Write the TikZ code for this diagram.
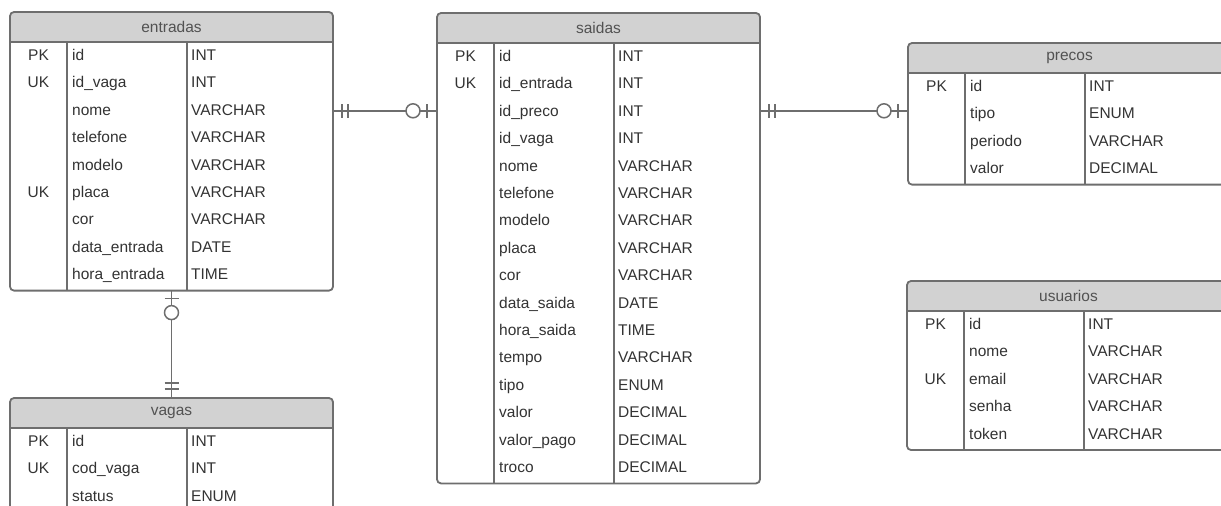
\documentclass[tikz,border=0pt]{standalone}
\usepackage{fontspec}
\setmainfont{Liberation Sans}
\usetikzlibrary{positioning,decorations.markings}
\definecolor{erline}{HTML}{6E6E6E}
\definecolor{erhead}{HTML}{D2D2D2}
\definecolor{ertext}{HTML}{333333}
\newcommand{\erfont}{\fontsize{15.5}{18}\selectfont}
\tikzset{
  tblframe/.style={rectangle,fill=white,minimum width=323pt,
                   inner sep=0pt,outer sep=0pt},
  tblrule/.style={draw=erline,line width=1.8pt},
  tbltitle/.style={font=\erfont,text=ertext!85,inner sep=0pt},
  keycell/.style={font=\erfont,text=ertext,anchor=base,inner sep=0pt},
  fieldcell/.style={font=\erfont,text=ertext,anchor=base west,inner sep=0pt},
  typecell/.style={font=\erfont,text=ertext,anchor=base west,inner sep=0pt},
  rel/.style={draw=erline,line width=1.5pt},
  onlyone start/.style={postaction={decorate,decoration={markings,
      mark=at position 9pt with {\draw[rel] (0pt,-7pt) -- (0pt,7pt);},
      mark=at position 15pt with {\draw[rel] (0pt,-7pt) -- (0pt,7pt);}}}},
  onlyone end/.style={postaction={decorate,decoration={markings,
      mark=at position -15pt with {\draw[rel] (0pt,-7pt) -- (0pt,7pt);},
      mark=at position -9pt with {\draw[rel] (0pt,-7pt) -- (0pt,7pt);}}}},
  zeroone start/.style={postaction={decorate,decoration={markings,
      mark=at position 8pt with {\draw[rel] (0pt,-7pt) -- (0pt,7pt);},
      mark=at position 22pt with {\draw[rel,fill=white] (0pt,0pt) circle (7pt);}}}},
  zeroone end/.style={postaction={decorate,decoration={markings,
      mark=at position -24pt with {\draw[rel,fill=white] (0pt,0pt) circle (7pt);},
      mark=at position -10pt with {\draw[rel] (0pt,-7pt) -- (0pt,7pt);}}}},
}

% #1 name, #2 north west corner, #3 title, #4 number of rows, #5 key/field/type rows
\newcommand{\ertable}[5]{%
  \node[tblframe,minimum height={32pt+#4*27.4pt},anchor=north west] (#1) at #2 {};
  \begin{scope}
    \clip[rounded corners=4pt] (#1.north west) rectangle (#1.south east);
    \fill[erhead] (#1.north west) rectangle ([yshift=-30pt]#1.north east);
  \end{scope}
  \node[tbltitle] (#1-title) at ([yshift=-15pt]#1.north) {#3};
  \draw[tblrule] ([yshift=-30pt]#1.north west) -- ([yshift=-30pt]#1.north east);
  \draw[tblrule] ([xshift=57pt,yshift=-30pt]#1.north west) -- ([xshift=57pt]#1.south west);
  \draw[tblrule] ([xshift=177pt,yshift=-30pt]#1.north west) -- ([xshift=177pt]#1.south west);
  \foreach \k/\f/\t [count=\i] in {#5} {
    \coordinate (#1-r\i) at ([yshift={-43pt-(\i-1)*27.4pt}]#1.north west);
    \node[keycell]   (#1-k\i) at ([xshift=28.5pt,yshift=-5.5pt]#1-r\i) {\k};
    \node[fieldcell] (#1-f\i) at ([xshift=62pt,yshift=-5.5pt]#1-r\i) {\f};
    \node[typecell]  (#1-t\i) at ([xshift=181pt,yshift=-5.5pt]#1-r\i) {\t};
  }
  \draw[tblrule,rounded corners=4pt] (#1.north west) rectangle (#1.south east);
}

\begin{document}
\begin{tikzpicture}[x=1pt,y=-1pt]

  \useasboundingbox (0,0) rectangle (1221,506);

  %% ── tables ───────────────────────────────────────────────────────────────
  \ertable{entradas}{(10,12)}{entradas}{9}{%
    PK/id/INT, UK/id\_vaga/INT, /nome/VARCHAR, /telefone/VARCHAR,
    /modelo/VARCHAR, UK/placa/VARCHAR, /cor/VARCHAR,
    /data\_entrada/DATE, /hora\_entrada/TIME}

  \ertable{vagas}{(10,398)}{vagas}{3}{%
    PK/id/INT, UK/cod\_vaga/INT, /status/ENUM}

  \ertable{saidas}{(437,13)}{saidas}{16}{%
    PK/id/INT, UK/id\_entrada/INT, /id\_preco/INT, /id\_vaga/INT,
    /nome/VARCHAR, /telefone/VARCHAR, /modelo/VARCHAR, /placa/VARCHAR,
    /cor/VARCHAR, /data\_saida/DATE, /hora\_saida/TIME, /tempo/VARCHAR,
    /tipo/ENUM, /valor/DECIMAL, /valor\_pago/DECIMAL, /troco/DECIMAL}

  \ertable{precos}{(908,43)}{precos}{4}{%
    PK/id/INT, /tipo/ENUM, /periodo/VARCHAR, /valor/DECIMAL}

  \ertable{usuarios}{(907,281)}{usuarios}{5}{%
    PK/id/INT, /nome/VARCHAR, UK/email/VARCHAR, /senha/VARCHAR,
    /token/VARCHAR}

  %% ── relationships ────────────────────────────────────────────────────────
  \draw[rel,onlyone start,zeroone end]
    (entradas.east |- saidas-r3) -- (saidas.west |- saidas-r3);
  \draw[rel,onlyone start,zeroone end]
    (saidas.east |- saidas-r3) -- (precos.west |- saidas-r3);
  \draw[rel,zeroone start,onlyone end] (entradas.south) -- (vagas.north);

\end{tikzpicture}
\end{document}
